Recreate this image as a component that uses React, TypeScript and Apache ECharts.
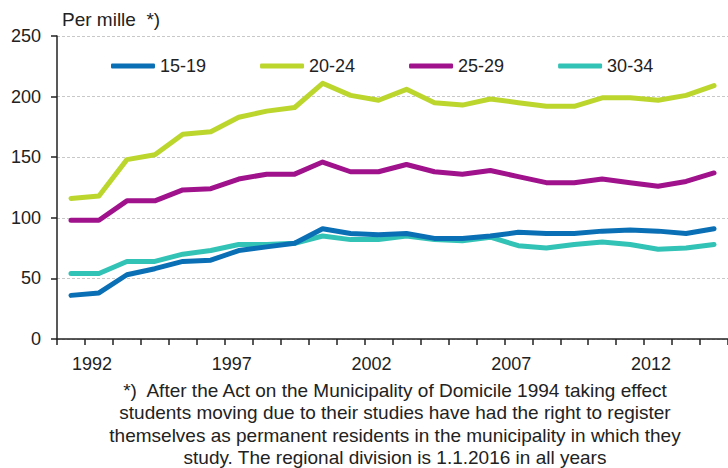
import React, { useEffect, useRef } from "react";
import * as echarts from "echarts";

const years = [
  "1991", "1992", "1993", "1994", "1995", "1996", "1997", "1998", "1999", "2000",
  "2001", "2002", "2003", "2004", "2005", "2006", "2007", "2008", "2009", "2010",
  "2011", "2012", "2013", "2014",
];

const age15_19 = [36, 38, 53, 58, 64, 65, 73, 76, 79, 91, 87, 86, 87, 83, 83, 85, 88, 87, 87, 89, 90, 89, 87, 91];
const age20_24 = [116, 118, 148, 152, 169, 171, 183, 188, 191, 211, 201, 197, 206, 195, 193, 198, 195, 192, 192, 199, 199, 197, 201, 209];
const age25_29 = [98, 98, 114, 114, 123, 124, 132, 136, 136, 146, 138, 138, 144, 138, 136, 139, 134, 129, 129, 132, 129, 126, 130, 137];
const age30_34 = [54, 54, 64, 64, 70, 73, 78, 78, 79, 85, 82, 82, 85, 82, 81, 84, 77, 75, 78, 80, 78, 74, 75, 78];

const seriesNames = ["15-19", "20-24", "25-29", "30-34"];
const seriesColors = ["#0a6fb5", "#bdd62e", "#a0118c", "#33c2b6"];

const yTicks = { min: 0, max: 250, interval: 50 };
const unitLabel = "Per mille  *)";
const footnoteLines = [
  "*)  After the Act on the Municipality of Domicile 1994 taking effect",
  "students moving due to their studies have had the right to register",
  "themselves as permanent residents in the municipality in which they",
  "study. The regional division is 1.1.2016 in all years",
];

const FONT = "'Liberation Sans', Arial, sans-serif";
const TEXT = "#222";

export default function App() {
  const ref = useRef<HTMLDivElement>(null);

  useEffect(() => {
    if (!ref.current) return;
    const chart = echarts.init(ref.current, undefined, { renderer: "svg" });
    const data = [age15_19, age20_24, age25_29, age30_34];
    chart.setOption({
      animation: false,
      backgroundColor: "#ffffff",
      textStyle: { fontFamily: FONT, color: TEXT },
      title: {
        text: unitLabel,
        left: 62,
        top: 10,
        padding: 0,
        textStyle: { fontSize: 19, fontWeight: "normal", color: TEXT, fontFamily: FONT },
      },
      legend: {
        left: 111,
        top: 57,
        padding: 0,
        icon: "roundRect",
        itemWidth: 44,
        itemHeight: 5,
        itemGap: 54,
        textStyle: { fontSize: 18, color: TEXT, fontFamily: FONT },
        data: seriesNames,
      },
      grid: { left: 57, top: 36, bottom: 129, right: -6, containLabel: false },
      xAxis: {
        type: "category",
        data: years,
        boundaryGap: true,
        axisLine: { lineStyle: { color: "#222", width: 1.5 } },
        axisTick: { show: true, interval: 0, length: 6, lineStyle: { color: "#222", width: 1.5 } },
        axisLabel: {
          interval: (index: number) => (Number(years[index]) - 1992) % 5 === 0,
          fontSize: 18,
          color: TEXT,
          fontFamily: FONT,
          margin: 16,
          padding: [0, 14, 0, 0],
        },
        splitLine: { show: false },
      },
      yAxis: {
        type: "value",
        min: yTicks.min,
        max: yTicks.max,
        interval: yTicks.interval,
        axisLine: { show: true, lineStyle: { color: "#222", width: 1.5 } },
        axisTick: { show: true, length: 6, lineStyle: { color: "#222", width: 1.5 } },
        axisLabel: { fontSize: 18, color: TEXT, fontFamily: FONT, margin: 16 },
        splitLine: { show: true, lineStyle: { color: "#c8c8c8", width: 1, type: [3, 2] } },
      },
      series: seriesNames.map((name, i) => ({
        name,
        type: "line",
        data: data[i],
        symbol: "none",
        smooth: false,
        color: seriesColors[i],
        lineStyle: { width: 5, color: seriesColors[i], cap: "round", join: "round" },
        z: 2 + (i === 0 ? 1 : 0),
      })),
      graphic: [
        {
          type: "text",
          style: {
            text: footnoteLines.join("\n"),
            x: 395,
            y: 379,
            align: "center",
            verticalAlign: "top",
            fontSize: 19,
            fontFamily: FONT,
            lineHeight: 22.5,
            fill: TEXT,
          },
        },
      ],
    });
    return () => chart.dispose();
  }, []);

  return (
    <div
      ref={ref}
      style={{ position: "fixed", left: 0, top: 0, width: 728, height: 468, overflow: "hidden" }}
    />
  );
}
